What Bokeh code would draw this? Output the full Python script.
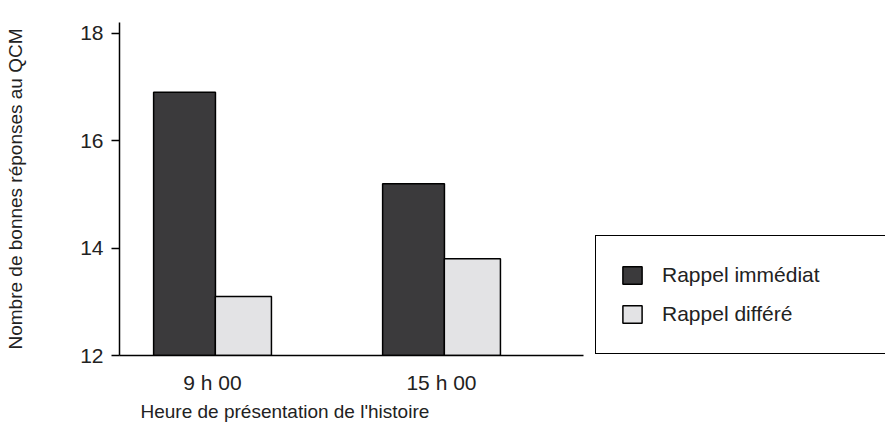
from bokeh.plotting import figure
from bokeh.models import ColumnDataSource, Range1d, FixedTicker, Legend, LegendItem, Title
from bokeh.transform import dodge
from bokeh.embed import file_html
from bokeh.resources import INLINE

# Data
categories = ["9 h 00", "15 h 00"]
rappel_immediat = [16.9, 15.2]
rappel_differe = [13.1, 13.8]
y_ticks = [12, 14, 16, 18]
x_title = "Heure de présentation de l'histoire"
y_title = "Nombre de bonnes réponses au QCM"

FONT = "Liberation Sans"
DARK = "#3b3a3c"
LIGHT = "#e3e3e5"
TXT = "#222222"

source = ColumnDataSource(dict(
    x=list(range(len(categories))),
    imm=rappel_immediat,
    dif=rappel_differe,
))

X_START, X_AXIS_END, X_END = -0.406, 1.620, 2.939

p = figure(width=885, height=430, output_backend="svg", toolbar_location=None,
           x_range=Range1d(X_START, X_END), y_range=Range1d(12, 18.2),
           min_border_left=119, min_border_right=0, min_border_top=22, min_border_bottom=75)
p.outline_line_color = None
p.xgrid.visible = False
p.ygrid.visible = False
p.background_fill_color = "white"

r1 = p.vbar(x=dodge("x", -0.122, range=p.x_range), top="imm", bottom=12, width=0.27,
            source=source, fill_color=DARK, line_color="black", line_width=1.5)
r2 = p.vbar(x=dodge("x", 0.135, range=p.x_range), top="dif", bottom=12, width=0.245,
            source=source, fill_color=LIGHT, line_color="black", line_width=1.5)

# X axis
p.xaxis.bounds = (X_START, X_AXIS_END)
p.xaxis.ticker = FixedTicker(ticks=list(range(len(categories))))
p.xaxis.major_label_overrides = {i: c for i, c in enumerate(categories)}
p.xaxis.major_tick_line_color = None
p.xaxis.major_tick_out = 0
p.xaxis.major_tick_in = 0
p.xaxis.minor_tick_line_color = None
p.xaxis.axis_line_width = 1.5
p.xaxis.axis_line_color = "black"
p.xaxis.major_label_text_font = FONT
p.xaxis.major_label_text_font_size = "21px"
p.xaxis.major_label_text_color = TXT
p.xaxis.major_label_standoff = 15

p.add_layout(Title(text=x_title, align="left", offset=21, standoff=4,
                   text_font=FONT, text_font_size="19px", text_font_style="normal",
                   text_color=TXT), "below")

# Y axis
p.yaxis.ticker = FixedTicker(ticks=y_ticks)
p.yaxis.minor_tick_line_color = None
p.yaxis.major_tick_in = 0
p.yaxis.major_tick_out = 8
p.yaxis.major_tick_line_width = 1.5
p.yaxis.axis_line_width = 1.5
p.yaxis.axis_line_color = "black"
p.yaxis.major_label_text_font = FONT
p.yaxis.major_label_text_font_size = "21px"
p.yaxis.major_label_text_color = TXT
p.yaxis.major_label_standoff = 8
p.yaxis.axis_label = y_title
p.yaxis.axis_label_text_font = FONT
p.yaxis.axis_label_text_font_size = "19px"
p.yaxis.axis_label_text_font_style = "normal"
p.yaxis.axis_label_text_color = TXT
p.yaxis.axis_label_standoff = 51

legend = Legend(items=[LegendItem(label="Rappel immédiat", renderers=[r1]),
                       LegendItem(label="Rappel différé", renderers=[r2])],
                location=(476, 1), margin=0, padding=24, spacing=9,
                glyph_width=24, glyph_height=22, label_height=30, label_width=200,
                label_standoff=18, label_text_font=FONT, label_text_font_size="21px",
                label_text_color=TXT,
                border_line_color="black", border_line_width=1.5, border_line_alpha=1.0,
                background_fill_color="white", background_fill_alpha=1.0)
p.add_layout(legend, "center")

open("out.html", "w").write(file_html(p, INLINE))
